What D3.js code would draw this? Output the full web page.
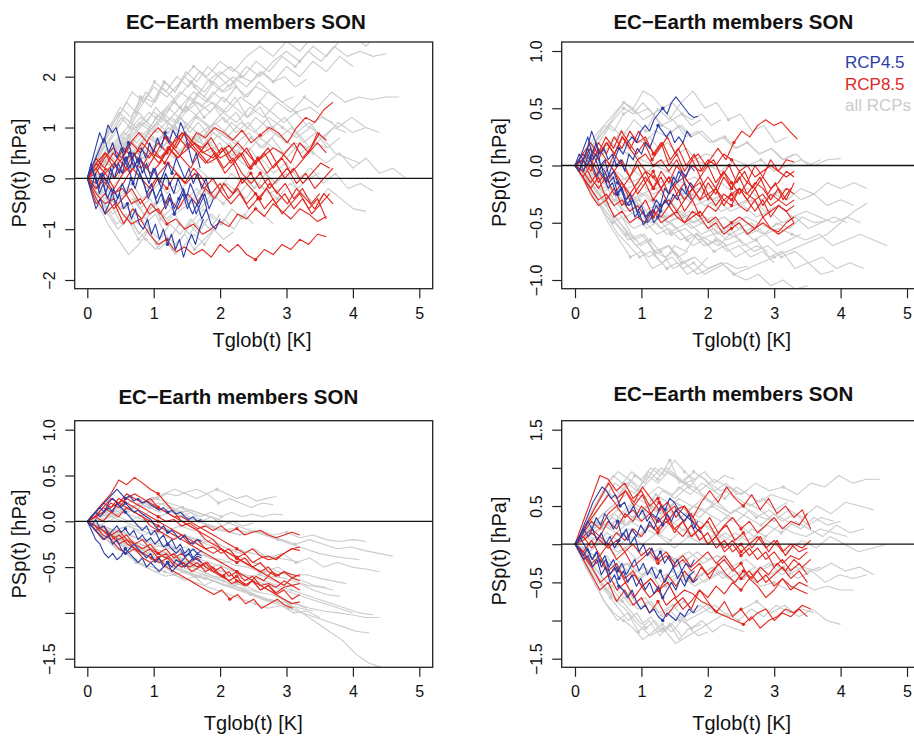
<!DOCTYPE html>
<html><head><meta charset="utf-8">
<script src="https://cdn.jsdelivr.net/npm/d3@7/dist/d3.min.js"></script>
<style>body{margin:0;background:#fff}svg{display:block;font-family:"Liberation Sans",Arial,Helvetica,sans-serif}</style>
</head><body><svg id="c" width="914" height="736"></svg>
<script>
// ---------- DATA (each line: [T_end, PSp values evenly spaced in Tglob from 0 to T_end]) ----------
const xTicks = [0,1,2,3,4,5];
const titleText = "EC\u2212Earth members SON";
const xTitle = "Tglob(t) [K]";
const yTitle = "PSp(t) [hPa]";
const legendLabels = ["RCP4.5","RCP8.5","all RCPs"];

const tlYTicks = [-2,-1,0,1,2];
const tlYLabels = ["\u22122","\u22121","0","1","2"];
const trYTicks = [-1,-0.5,0,0.5,1];
const trYLabels = ["\u22121.0","\u22120.5","0.0","0.5","1.0"];
const blYTicks = [-1.5,-1,-0.5,0,0.5,1];
const blYLabels = ["\u22121.5","","\u22120.5","0.0","0.5","1.0"];
const brYTicks = [-1.5,-1,-0.5,0,0.5,1,1.5];
const brYLabels = ["\u22121.5","","\u22120.5","","0.5","","1.5"];

const tlGray = [
[4.6,0,.3,.6,.9,1.2,1.0,1.4,1.7,1.5,1.9,2.1,1.9,2.2,2.0,2.3,2.5,2.3,2.6,2.4,2.7,2.8,2.6,2.9,2.8],
[4.5,0,.2,.5,.8,1.1,.9,1.3,1.6,1.9,1.7,2.0,2.2,2.0,2.3,2.1,2.4,2.2,2.5,2.3,2.6,2.4,2.5,2.4,2.45],
[4.7,0,.4,.2,.6,.9,.7,1.0,.8,1.2,1.0,1.3,1.1,1.4,1.2,1.5,1.3,1.6,1.4,1.7,1.5,1.6,1.55,1.6,1.6],
[3.3,0,.5,1.0,1.4,1.2,1.6,1.5,1.9,1.7,2.1,1.9,2.2,2.0,1.8,2.0,1.9,2.1,1.9,2.0,1.8,1.95],
[4.8,0,-.2,.1,.3,.1,.4,.7,.5,.8,.6,.9,.7,.5,.8,.6,.4,.7,.5,.3,.5,.2,.4,.1,.2,0],
[4.2,0,-.4,-.7,-.5,-.9,-.6,-.4,-.7,-.5,-.2,-.4,-.1,-.3,0,-.2,-.4,-.1,-.3,-.5,-.2,-.4,-.6,-.65],
[4.3,0,.2,0,.3,.5,.3,.6,.4,.7,.5,.3,.6,.4,.2,.4,.1,.3,0,.2,-.1,.1,-.2,-.1,-.25],
[4.1,0,.3,.6,.9,.7,1.0,1.3,1.1,1.4,1.2,1.0,1.2,.9,1.1,.8,1.0,.7,.9,.6,.8,.5,.4,.3],
[2.8,0,-.5,-.9,-1.2,-1.5,-1.3,-1.0,-1.2,-.9,-1.1,-.8,-1.0,-.7,-.9,-.6,-.8,-.5,-.7,-.9],
[2.5,0,-.3,-.6,-.9,-.7,-1.0,-1.2,-1.4,-1.2,-1.5,-1.3,-1.1,-1.3,-1.0,-.8,-1.0,-.7,-.9],
[3.9,0,.5,.8,1.2,1.0,1.3,1.1,1.5,1.3,1.7,1.5,1.3,1.6,1.2,1.4,1.0,1.2,.9,1.1,.8,1.0,.9],
[4.4,0,.3,.7,1.0,1.4,1.8,1.6,1.9,2.2,2.0,2.3,2.1,2.4,2.6,2.4,2.7,2.5,2.8,2.7,2.9,3.0,2.8,3.0],
[3.8,0,.1,-.2,.1,.3,.6,.4,.7,.5,.8,1.0,.8,1.1,.9,1.2,1.0,.8,1.0,.7,.9,.6,.8],
[3.0,0,-.3,0,-.4,-.2,-.6,-.4,-.8,-.6,-.3,-.5,-.2,-.4,-.1,-.3,0,-.2,.1,-.1,.2],
[2.2,0,.4,.8,1.1,1.5,1.3,1.7,1.5,1.9,1.7,2.0,1.8,1.6,1.9,1.7,1.8],
[4.0,0,.2,.4,.7,1.0,1.3,1.1,1.4,1.7,1.5,1.8,2.0,1.8,2.1,1.9,2.2,2.0,2.3,2.1,2.4,2.2],
[3.5,0,-.2,-.5,-.3,-.1,-.4,-.2,0,-.3,-.1,.2,0,-.2,.1,-.1,.3,.1,-.1,.1,-.2,0,.1],
[2.6,0,.3,.6,.4,.8,.6,.9,.7,1.0,.8,.6,.9,.7,.5,.7,.4,.6,.3],
[3.7,0,.2,.5,.8,.6,.9,1.2,1.0,1.3,1.5,1.3,1.6,1.4,1.2,1.5,1.3,1.1,1.3,1.0,1.2,1.1],
[1.8,0,-.4,-.2,-.6,-.9,-.7,-1.1,-.9,-1.3,-1.1,-1.4,-1.2,-.9,-1.1,-.8],
[2.4,0,.4,.9,1.3,1.1,1.6,1.4,1.8,1.6,1.3,1.5,1.2,1.4,1.1,1.3,1.0],
[3.1,0,.3,.7,.5,1.0,.8,1.2,1.4,1.2,1.6,1.4,1.7,1.5,1.8,1.6,1.9,1.7,1.5,1.6],
[2.0,0,-.3,-.7,-1.0,-.8,-1.2,-1.0,-1.4,-1.2,-.9,-1.1,-.8,-1.0,-.7],
[2.3,0,.2,.5,.3,.7,.5,.9,.7,1.1,.9,.6,.8,.5,.7,.4,.6],
[3.6,0,.4,.2,.6,.4,.8,.6,1.0,.8,.6,.9,.7,.5,.8,.6,.9,.7,.5,.7,.6],
[1.9,0,-.2,-.5,-.3,-.6,-.4,-.8,-.6,-.9,-.7,-1.0,-.8,-.6,-.8],
[2.7,0,.6,1.0,1.3,1.7,1.5,1.9,1.7,2.0,1.8,2.1,1.9,1.7,1.9,1.6,1.8,1.7],
[4.2,0,.1,.3,.6,.4,.7,.5,.9,.7,1.0,.8,1.1,.9,1.2,1.0,.8,1.0,.8,1.1,.9,1.0],
[2.1,0,-.1,.2,0,.3,.1,-.2,0,-.3,-.1,-.4,-.2,-.5,-.3,-.2],
[3.3,0,.2,.4,.7,.5,.8,1.1,.9,1.2,1.0,.8,1.1,.9,.7,.9,.6,.8,.5,.7,.6],
[1.8,0,.3,.6,.9,1.2,1.0,1.3,1.1,1.4,1.2,1.0,1.2,.9,1.1,.9],
[2.9,0,-.2,-.4,-.6,-.4,-.7,-.5,-.8,-.6,-.4,-.6,-.3,-.5,-.2,-.4,-.1,-.3,-.2],
[4.4,0,.3,.5,.8,1.1,.9,1.2,1.0,1.3,1.5,1.3,1.6,1.4,1.7,1.5,1.3,1.4,1.2,1.0,1.2,1.0,.9],
[2.2,0,.1,-.2,-.5,-.3,-.7,-.9,-.7,-1.1,-1.3,-1.1,-1.4,-1.2,-1.0,-1.2,-1.05]
];
const tlRed = [
[3.7,0,.2,.5,.3,.6,.4,.7,.5,.4,.6,.8,.6,.9,.8,1.0,.9,.75,.95,.7,.85,1.0,.9,.7,1.0,1.2,1.1,1.35,1.5],
[3.6,0,-.2,.1,.3,.1,.4,.6,.4,.7,.5,.8,.9,.7,.6,.8,.5,.65,.4,.6,.3,.45,.6,.5,.3,.7,.5,.9,.75],
[3.65,0,.3,.1,-.2,.1,.3,.2,.5,.3,.6,.4,.55,.7,.5,.4,.6,.3,.5,.2,.4,.1,.3,0,.2,-.1,.1,.3,.2],
[3.7,0,-.4,-.7,-.5,-.9,-.6,-.8,-.5,-.7,-.4,-.6,-.3,-.5,-.2,-.4,-.1,-.3,0,-.2,-.4,-.1,-.3,-.5,-.2,-.4,-.6,-.3,-.5],
[3.6,0,-.3,-.5,-.4,-.7,-.9,-.8,-1.1,-1.3,-1.2,-1.45,-1.35,-1.5,-1.4,-1.55,-1.3,-1.45,-1.3,-1.5,-1.6,-1.4,-1.5,-1.3,-1.4,-1.2,-1.3,-1.1,-1.15],
[3.6,0,.2,-.1,-.3,-.2,-.5,-.4,-.7,-.6,-.9,-.8,-1.0,-.9,-1.1,-1.0,-.85,-.95,-.7,-.8,-.6,-.75,-.5,-.65,-.8,-.6,-.7,-.85,-.75],
[3.5,0,.4,.2,.5,.3,.1,.4,.2,.5,.3,.6,.4,.2,.5,.3,.4,.1,.3,-.1,.1,-.2,0,-.3,-.1,-.4,-.2,-.5,-.3],
[3.7,0,-.1,.2,0,.3,.5,.3,.1,.3,.6,.4,.7,.5,.3,.5,.2,.4,.1,-.1,.1,-.2,0,.2,-.1,.1,-.2,0,.2],
[3.6,0,-.5,-.3,-.6,-.4,-.2,-.5,-.3,0,-.2,.1,-.1,.2,0,-.3,-.1,-.4,-.2,-.5,-.3,-.6,-.4,-.7,-.5,-.3,-.6,-.4,-.8],
[3.5,0,.1,.4,.6,.4,.7,.9,.7,.5,.8,.6,.9,.7,.5,.7,.4,.6,.3,.5,.2,.4,.6,.3,.5,.7,.4,.6,.9],
[3.65,0,-.2,0,-.3,-.1,.2,0,-.2,.1,.3,.1,-.1,.1,-.2,0,-.3,-.5,-.3,-.6,-.4,-.2,-.5,-.3,-.6,-.4,-.7,-.5,-.3],
[3.6,0,.3,.5,.2,.4,.7,.5,.8,1.0,.8,.6,.9,.7,.5,.6,.4,.5,.7,.5,.3,.5,.2,.4,.1,.3,.5,.7,.5]
];
const tlBlue = [
[1.8,0,.3,.6,.9,.7,1.05,.9,1.0,.7,.5,.7,.4,.2,.4,.1,-.1,.2,0,-.2,.1,-.1,-.3,0,-.2,-.4,-.1,-.3,-.5,-.3,-.6],
[1.75,0,-.2,.1,-.3,-.1,-.4,-.2,-.5,-.3,-.6,-.5,-.8,-.6,-.9,-1.0,-.8,-1.1,-.9,-1.2,-1.0,-1.3,-1.1,-1.4,-1.2,-1.55,-1.3,-1.1,-1.3,-1.0,-.8],
[2.0,0,.2,-.1,.1,-.3,0,.3,.1,.4,.2,-.1,.2,0,-.3,-.1,-.4,-.2,-.5,-.3,-.6,-.4,-.2,-.5,-.7,-.5,-.8,-.6,-.9,-1.0,-.8],
[1.7,0,.3,0,-.2,.1,-.1,.2,0,.3,.1,.4,.2,.5,.3,.6,.4,.7,.5,.8,.6,.9,.7,.95,.8,1.1,.9,.6,.3,.5,.2],
[1.9,0,-.3,-.6,-.4,-.7,-.5,-.2,-.4,-.1,-.3,0,-.2,.1,-.1,-.4,-.2,-.5,-.3,-.6,-.4,-.7,-.5,-.3,-.6,-.4,-.7,-.5,-.3,-.6,-.4],
[1.85,0,.2,.4,.6,.8,.5,.7,.4,.6,.3,.5,.2,.4,.1,.3,0,.2,-.1,.1,.3,.1,.4,.2,0,.2,-.1,.1,-.2,0,-.3]
];

const trGray = [
[4.7,0,-.1,-.2,-.15,-.3,-.25,-.35,-.3,-.45,-.4,-.5,-.45,-.55,-.5,-.6,-.55,-.6,-.65,-.6,-.7,-.65,-.6,-.65,-.7],
[4.4,0,-.1,-.05,-.15,-.1,-.25,-.2,-.3,-.25,-.35,-.3,-.4,-.35,-.3,-.35,-.25,-.3,-.2,-.25,-.15,-.2,-.15,-.2],
[4.35,0,-.15,-.3,-.25,-.4,-.5,-.45,-.6,-.55,-.65,-.6,-.7,-.65,-.75,-.7,-.8,-.75,-.85,-.8,-.9,-.85,-.9],
[4.0,0,.05,-.05,.05,0,-.1,0,.05,-.05,.05,0,-.05,.05,0,.05,-.05,0,.05,0,.05,.06],
[3.7,0,.1,.25,.4,.55,.45,.5,.35,.4,.25,.3,.2,.25,.15,.2,.1,.15,.05,.1,0,.05],
[3.2,0,.1,.2,.35,.25,.4,.3,.5,.4,.55,.65,.5,.55,.4,.45,.3,.35,.2,.25],
[4.4,0,-.2,-.35,-.5,-.65,-.6,-.75,-.7,-.85,-.8,-.9,-.85,-.95,-.9,-.85,-.8,-.75,-.7,-.65,-.6,-.5,-.4,-.33],
[3.5,0,-.1,-.25,-.4,-.55,-.7,-.8,-.75,-.9,-.85,-.95,-.9,-.85,-.95,-1.0,-.95,-1.05,-1.0,-1.08,-1.05],
[3.9,0,-.2,-.1,-.3,-.2,-.35,-.3,-.45,-.4,-.5,-.45,-.6,-.55,-.7,-.65,-.8,-.75,-.9,-.85,-.95,-.92],
[2.5,0,-.15,-.3,-.5,-.65,-.8,-.75,-.9,-.85,-.7,-.75,-.6,-.65,-.7,-.6,-.65],
[4.1,0,.05,-.05,-.1,-.2,-.15,-.25,-.2,-.3,-.25,-.35,-.3,-.4,-.35,-.45,-.4,-.5,-.45,-.55,-.5,-.45,-.5],
[3.0,0,-.05,-.2,-.3,-.45,-.55,-.5,-.6,-.55,-.65,-.6,-.7,-.65,-.75,-.7,-.8,-.75,-.85],
[4.2,0,.05,.15,.25,.15,.05,0,-.05,-.15,-.1,-.2,-.15,-.25,-.2,-.3,-.25,-.2,-.3,-.25,-.35,-.3,-.35],
[2.0,0,-.1,-.2,-.35,-.5,-.6,-.7,-.65,-.8,-.9,-.85,-.95,-.9,-.8],
[3.3,0,.05,.1,.2,.15,.25,.2,.3,.25,.35,.25,.3,.2,.25,.15,.2,.1,.15,.05,.1],
[2.8,0,-.1,-.25,-.2,-.35,-.3,-.45,-.4,-.5,-.45,-.55,-.5,-.6,-.55,-.5,-.6,-.55],
[4.3,0,-.05,-.1,-.05,-.15,-.1,-.2,-.15,-.25,-.2,-.3,-.25,-.35,-.3,-.4,-.35,-.45,-.4,-.45,-.5,-.45,-.5],
[1.9,0,.1,.2,.3,.4,.5,.45,.55,.45,.5,.4,.45,.35,.4],
[2.3,0,-.1,-.2,-.35,-.3,-.45,-.4,-.55,-.5,-.6,-.55,-.65,-.6,-.7,-.65,-.7],
[2.9,0,.05,-.05,-.15,-.25,-.35,-.3,-.45,-.55,-.5,-.6,-.7,-.65,-.75,-.7,-.8,-.75,-.7,-.75],
[1.9,0,.1,.25,.35,.3,.45,.5,.4,.45,.35,.3,.35,.25,.3],
[2.6,0,-.15,-.3,-.45,-.6,-.7,-.8,-.75,-.85,-.8,-.9,-.85,-.95,-.9,-.85,-.9,-.88],
[3.4,0,-.05,-.15,-.1,-.2,-.3,-.25,-.35,-.45,-.4,-.5,-.45,-.55,-.6,-.55,-.65,-.6,-.7,-.65,-.6],
[2.1,0,.05,.15,.1,.2,.3,.25,.2,.25,.15,.2,.1,.15,.05,.1,.08],
[3.8,0,-.1,-.2,-.3,-.4,-.35,-.5,-.45,-.55,-.5,-.6,-.55,-.65,-.6,-.55,-.6,-.5,-.55,-.45,-.5,-.48],
[1.7,0,-.1,-.25,-.4,-.5,-.45,-.6,-.7,-.65,-.75,-.7,-.8,-.75],
[2.4,0,0,.1,.2,.15,.1,0,-.05,-.15,-.1,-.2,-.25,-.2,-.3,-.25,-.3],
[3.1,0,-.05,-.1,-.2,-.15,-.3,-.4,-.35,-.5,-.45,-.4,-.5,-.45,-.55,-.5,-.45,-.5,-.55,-.5],
[2.2,0,.1,.2,.35,.45,.55,.5,.65,.6,.5,.55,.45,.4,.45,.35,.4],
[1.8,0,-.05,-.2,-.3,-.45,-.55,-.65,-.6,-.75,-.8,-.75,-.85,-.8]
];
const trRed = [
[3.35,0,.05,-.05,.1,.2,.1,.25,.15,.3,.2,.1,.2,.05,.15,0,.1,-.05,.05,.15,.05,.2,.3,.25,.35,.4,.35,.38,.3,.23],
[3.3,0,-.1,-.2,-.1,-.3,-.2,-.35,-.25,-.4,-.3,-.45,-.35,-.3,-.4,-.3,-.2,-.3,-.15,-.25,-.1,-.2,-.05,-.15,0,-.1,.05,-.05,.05,.03],
[3.3,0,-.1,-.25,-.35,-.3,-.45,-.4,-.5,-.45,-.5,-.4,-.45,-.35,-.45,-.5,-.4,-.45,-.55,-.5,-.6,-.55,-.5,-.6,-.55,-.45,-.55,-.6,-.55,-.5],
[3.3,0,.1,.05,.2,.1,.25,.15,.3,.2,.25,.1,.2,0,.1,-.05,.05,-.1,0,-.15,-.05,-.2,-.1,-.25,-.15,-.2,-.3,-.2,-.3,-.15],
[3.3,0,-.05,.05,-.05,-.15,-.05,-.2,-.1,-.25,-.15,-.3,-.2,-.35,-.25,-.4,-.3,-.45,-.35,-.4,-.3,-.35,-.2,-.3,-.4,-.3,-.45,-.35,-.4,-.5],
[3.25,0,.1,.2,.1,.25,.15,.3,.2,.1,.2,.05,.15,.25,.1,.2,.05,.1,0,.05,-.1,0,-.15,-.05,-.2,-.1,-.25,-.15,-.3,-.2],
[3.3,0,-.1,0,-.15,-.05,.1,0,-.1,.05,-.05,-.2,-.1,-.25,-.15,-.1,-.2,-.15,-.3,-.2,-.35,-.25,-.2,-.3,-.2,-.35,-.25,-.3,-.2,-.25],
[3.3,0,.05,-.1,-.2,-.1,-.25,-.15,-.3,-.2,-.1,-.2,-.05,-.15,0,-.1,-.2,-.1,-.25,-.2,-.3,-.25,-.35,-.4,-.3,-.45,-.4,-.35,-.4,-.35],
[3.3,0,.1,0,.15,.05,-.05,.05,-.1,0,-.15,-.05,-.2,-.1,-.25,-.15,-.3,-.2,-.1,-.2,-.05,-.15,-.25,-.15,-.2,-.1,-.2,-.15,-.05,-.1],
[3.3,0,-.1,-.2,-.3,-.25,-.35,-.3,-.4,-.35,-.45,-.4,-.5,-.45,-.4,-.5,-.45,-.4,-.5,-.45,-.55,-.5,-.45,-.5,-.55,-.5,-.55,-.58,-.5,-.45],
[3.3,0,.05,.15,.05,.2,.1,.25,.15,.05,.1,0,.05,-.05,.05,-.1,0,-.05,.05,0,.1,.05,-.05,0,-.1,-.05,0,-.05,-.1,-.05],
[3.3,0,-.05,-.15,-.05,.05,-.05,-.15,-.25,-.15,-.05,-.1,-.2,-.1,-.2,-.3,-.2,-.3,-.25,-.35,-.25,-.3,-.2,-.25,-.3,-.25,-.35,-.3,-.35,-.3]
];
const trBlue = [
[1.85,0,.05,-.05,.1,0,-.1,0,-.15,-.05,.05,.15,.1,.2,.25,.2,.3,.35,.3,.4,.45,.5,.45,.55,.6,.55,.5,.45,.42,.43],
[1.8,0,.05,.15,.25,.1,.2,0,-.05,-.15,-.1,-.25,-.2,-.35,-.3,-.45,-.4,-.52,-.45,-.4,-.3,-.35,-.2,-.25,-.1,-.15,-.05,-.1,0,-.05],
[1.8,0,-.05,.05,.15,.05,.1,0,.05,-.1,-.05,-.15,-.2,-.3,-.25,-.35,-.45,-.4,-.5,-.45,-.35,-.4,-.3,-.35,-.25,-.3,-.2,-.25,-.15,-.2],
[1.75,0,.1,.05,.15,.3,.2,.1,.15,.05,.1,0,.05,-.05,.1,.05,.15,.1,.2,.15,.25,.35,.3,.25,.3,.2,.25,.2,.3,.25],
[1.75,0,-.05,.05,0,.1,.05,-.05,-.1,-.2,-.15,-.25,-.2,-.3,-.35,-.3,-.4,-.35,-.45,-.4,-.5,-.45,-.35,-.3,-.2,-.15,-.05,-.1,-.25,-.3]
];

const blGray = [
[4.6,0,.05,.1,.15,.2,.15,.1,.05,0,-.05,-.1,-.15,-.1,-.15,-.2,-.25,-.2,-.25,-.3,-.28,-.32,-.35,-.38],
[4.4,0,-.05,-.1,-.05,-.15,-.1,-.2,-.15,-.25,-.2,-.3,-.35,-.3,-.4,-.35,-.45,-.4,-.5,-.45,-.5,-.52,-.55],
[4.4,0,-.1,-.2,-.3,-.35,-.45,-.5,-.55,-.6,-.65,-.7,-.75,-.8,-.85,-.88,-.9,-.95,-.98,-1.0,-1.02,-1.05,-1.05],
[4.25,0,-.1,-.15,-.25,-.3,-.4,-.45,-.5,-.55,-.6,-.65,-.7,-.78,-.85,-.9,-.95,-1.0,-1.05,-1.1,-1.15,-1.2,-1.22],
[4.45,0,-.05,-.1,-.2,-.25,-.3,-.35,-.4,-.45,-.5,-.55,-.6,-.65,-.7,-.8,-.9,-1.0,-1.1,-1.2,-1.3,-1.45,-1.55,-1.6],
[2.85,0,.05,.1,.15,.2,.25,.2,.25,.3,.28,.32,.35,.3,.35,.3,.25,.28,.22,.25,.27],
[2.95,0,-.05,0,.05,0,.05,.1,.05,.1,.15,.1,.05,.1,.05,.1,.05,.08,.05,.08,.07],
[4.2,0,-.05,-.1,-.05,-.1,-.15,-.1,-.05,-.1,-.05,-.1,-.08,-.12,-.1,-.15,-.12,-.18,-.15,-.2,-.22,-.2,-.22],
[4.0,0,-.1,-.15,-.2,-.3,-.35,-.4,-.45,-.5,-.55,-.6,-.58,-.65,-.7,-.75,-.8,-.85,-.9,-.95,-1.0],
[3.9,0,-.05,-.1,-.15,-.2,-.28,-.25,-.35,-.3,-.4,-.45,-.42,-.5,-.55,-.5,-.6,-.58,-.62,-.65,-.68],
[2.2,0,-.1,-.2,-.3,-.35,-.45,-.5,-.55,-.6,-.58,-.65,-.6,-.7,-.65,-.7,-.72],
[3.5,0,-.15,-.25,-.35,-.45,-.5,-.55,-.6,-.65,-.7,-.75,-.8,-.85,-.9,-.95,-.92,-1.0,-.98,-1.05],
[3.6,0,0,.05,.1,.05,0,-.05,-.1,-.15,-.2,-.25,-.3,-.35,-.4,-.45,-.5,-.55,-.6,-.65,-.7,-.72],
[4.1,0,.05,.1,.15,.2,.25,.2,.15,.1,.05,0,-.05,-.1,-.15,-.2,-.25,-.3,-.35,-.38,-.4,-.42],
[3.4,0,-.05,-.15,-.2,-.3,-.35,-.45,-.5,-.55,-.6,-.65,-.7,-.75,-.8,-.85,-.88,-.92,-.95,-.98],
[2.5,0,.1,.05,.15,.1,.2,.15,.1,.15,.05,.1,0,.05,-.05,0,-.05,-.02],
[3.8,0,-.05,-.1,-.2,-.25,-.3,-.35,-.4,-.45,-.5,-.48,-.55,-.6,-.58,-.65,-.7,-.68,-.75,-.8,-.82],
[2.4,0,-.05,-.15,-.2,-.3,-.35,-.4,-.45,-.5,-.55,-.6,-.62,-.65,-.7,-.68,-.72],
[2.0,0,.05,.1,.05,.15,.1,.2,.15,.2,.15,.1,.12,.08,.05,.02],
[2.6,0,-.05,-.15,-.25,-.3,-.35,-.4,-.45,-.5,-.55,-.6,-.62,-.66,-.7,-.72,-.75,-.78],
[1.9,0,-.1,-.2,-.3,-.35,-.42,-.5,-.55,-.5,-.58,-.55,-.6,-.58,-.62],
[3.0,0,-.05,-.1,-.15,-.2,-.25,-.3,-.35,-.4,-.45,-.5,-.55,-.6,-.65,-.7,-.75,-.8,-.85,-.88,-.92],
[2.3,0,.05,.1,.15,.12,.18,.15,.2,.15,.1,.05,0,-.05,-.1,-.12,-.15],
[3.3,0,-.1,-.15,-.2,-.25,-.3,-.35,-.4,-.45,-.5,-.55,-.6,-.62,-.68,-.72,-.78,-.8,-.85,-.9,-.95],
[1.7,0,-.05,-.15,-.2,-.3,-.28,-.35,-.4,-.38,-.45,-.42,-.5,-.48],
[2.8,0,0,.05,.1,.15,.2,.25,.3,.35,.3,.25,.3,.2,.25,.2,.15,.2,.18],
[3.7,0,-.05,-.1,-.12,-.18,-.2,-.25,-.3,-.28,-.35,-.4,-.42,-.48,-.5,-.55,-.6,-.62,-.66,-.7,-.72,-.75],
[2.1,0,-.08,-.15,-.2,-.25,-.32,-.38,-.35,-.42,-.4,-.45,-.5,-.48,-.52,-.55],
[4.3,0,-.05,-.1,-.15,-.2,-.25,-.3,-.35,-.4,-.45,-.5,-.55,-.6,-.65,-.7,-.75,-.8,-.85,-.9,-.95,-1.0,-1.02],
[3.2,0,.02,.05,0,-.05,-.08,-.12,-.1,-.15,-.18,-.22,-.25,-.3,-.32,-.35,-.38,-.4,-.42,-.45]
];
const blRed = [
[3.2,0,.1,.2,.3,.45,.4,.48,.42,.35,.3,.2,.1,0,-.05,-.1,-.15,-.2,-.3,-.35,-.4,-.45,-.5,-.55,-.6,-.65,-.7,-.62,-.65],
[3.2,0,.05,.1,.2,.15,.25,.2,.15,.1,.05,0,.02,-.05,-.02,-.08,-.05,-.1,-.05,-.12,-.08,-.15,-.12,-.1,-.15,-.18,-.15,-.12,-.15],
[3.2,0,-.1,-.05,-.15,-.2,-.15,-.25,-.3,-.25,-.35,-.4,-.35,-.45,-.5,-.45,-.55,-.5,-.6,-.65,-.6,-.7,-.65,-.75,-.7,-.8,-.75,-.85,-.8],
[3.2,0,.1,.2,.15,.25,.2,.15,.1,.05,0,-.05,-.1,-.15,-.2,-.25,-.3,-.28,-.35,-.3,-.4,-.35,-.45,-.4,-.38,-.42,-.35,-.3,-.28],
[3.1,0,-.05,-.15,-.2,-.3,-.35,-.3,-.4,-.45,-.4,-.5,-.55,-.6,-.65,-.7,-.75,-.8,-.75,-.85,-.8,-.9,-.85,-.95,-.9,-.85,-.92,-.95],
[3.2,0,.05,.15,.25,.2,.3,.25,.2,.25,.15,.1,.05,0,-.05,-.1,-.2,-.25,-.3,-.35,-.4,-.45,-.5,-.55,-.5,-.6,-.55,-.58,-.6],
[3.2,0,-.1,-.2,-.15,-.25,-.2,-.3,-.35,-.3,-.4,-.35,-.45,-.5,-.45,-.4,-.5,-.55,-.6,-.55,-.65,-.7,-.65,-.75,-.7,-.78,-.72,-.7,-.75],
[3.2,0,.05,0,.1,.05,.15,.1,.05,-.05,-.1,-.15,-.2,-.15,-.25,-.2,-.3,-.35,-.3,-.4,-.45,-.4,-.5,-.45,-.55,-.6,-.55,-.62,-.58],
[2.9,0,-.05,-.1,-.2,-.15,-.25,-.3,-.35,-.4,-.45,-.4,-.5,-.45,-.55,-.5,-.45,-.55,-.6,-.68,-.65,-.7,-.6,-.65,-.55,-.6],
[3.2,0,.05,.1,.15,.2,.25,.3,.25,.2,.15,.1,.05,.05,0,-.05,-.1,-.15,-.2,-.25,-.3,-.35,-.3,-.38,-.42,-.4,-.35,-.3,-.32],
[3.2,0,-.05,-.1,-.15,-.1,-.2,-.25,-.2,-.3,-.35,-.3,-.4,-.35,-.45,-.5,-.45,-.55,-.5,-.6,-.55,-.65,-.6,-.7,-.68,-.72,-.65,-.7,-.68],
[3.2,0,.05,.15,.1,.2,.15,.1,.05,0,-.05,-.1,-.15,-.2,-.25,-.3,-.35,-.4,-.45,-.5,-.55,-.6,-.65,-.7,-.75,-.8,-.85,-.9,-.88]
];
const blBlue = [
[1.72,0,.05,.1,.15,.2,.25,.3,.35,.3,.25,.28,.22,.25,.2,.22,.18,.15,.12,.15,.1,.12,.08,.1,.05,.02,.05,0,.02],
[1.72,0,-.1,-.2,-.25,-.35,-.4,-.35,-.42,-.38,-.3,-.35,-.4,-.45,-.4,-.5,-.45,-.5,-.55,-.5,-.45,-.5,-.42,-.45,-.5,-.45,-.4,-.42,-.45],
[1.72,0,.05,.1,.05,.1,.15,.1,.2,.15,.1,.05,0,-.05,-.1,-.05,-.15,-.1,-.2,-.15,-.25,-.2,-.3,-.25,-.35,-.3,-.4,-.35,-.38],
[1.72,0,-.05,-.1,-.15,-.2,-.15,-.25,-.2,-.3,-.35,-.3,-.25,-.3,-.35,-.4,-.35,-.45,-.4,-.5,-.45,-.55,-.5,-.45,-.4,-.35,-.42,-.38,-.4],
[1.72,0,.05,.1,.15,.1,.2,.25,.2,.15,.2,.15,.1,.12,.08,.05,.02,-.05,-.1,-.05,-.12,-.1,-.15,-.2,-.15,-.22,-.25,-.2,-.22],
[1.72,0,-.05,.02,-.08,-.05,-.15,-.1,-.05,-.12,-.08,-.15,-.1,-.2,-.15,-.22,-.18,-.25,-.2,-.28,-.25,-.3,-.35,-.3,-.38,-.35,-.3,-.35,-.32]
];

const brGray = [
[4.6,0,.2,.4,.55,.7,.6,.75,.65,.8,.7,.85,.75,.65,.8,.7,.75,.65,.8,.75,.9,.8,.85,.85],
[4.7,0,-.1,.05,.15,.05,.2,.1,-.05,.1,0,.15,.05,-.05,.1,0,-.1,.05,-.05,.1,0,-.1,-.05,0],
[4.4,0,-.15,-.3,-.2,-.4,-.3,-.45,-.35,-.5,-.4,-.3,-.45,-.35,-.5,-.4,-.3,-.45,-.35,-.5,-.4,-.45,-.4],
[4.0,0,-.2,-.45,-.6,-.8,-.7,-.9,-.8,-1.0,-.9,-.8,-.95,-.85,-.75,-.9,-.8,-.95,-.85,-1.0,-1.05],
[4.5,0,.15,.3,.45,.35,.5,.4,.55,.45,.6,.5,.4,.55,.45,.3,.45,.35,.5,.4,.55,.5,.45],
[4.35,0,.1,.25,.15,.3,.2,.35,.25,.4,.3,.2,.35,.25,.1,.25,.15,.3,.2,.1,.25,.15,.2],
[2.55,0,-.3,-.55,-.8,-1.0,-.9,-1.15,-1.0,-1.2,-1.05,-.95,-1.1,-1.0,-1.15,-1.05,-1.1,-1.15],
[2.6,0,.3,.55,.8,.95,.85,.7,.85,1.0,.9,.8,.95,.85,.7,.8,.65,.7],
[2.0,0,.2,.45,.7,.9,.8,.95,.85,1.0,.9,1.1,.8,.9,.7,.6],
[3.6,0,-.25,-.5,-.7,-.85,-1.05,-1.2,-1.1,-1.3,-1.2,-1.1,-1.0,-.9,-1.0,-.85,-.95,-.8,-.9,-.85,-.9],
[4.5,0,.1,0,-.1,0,-.15,-.05,-.2,-.1,-.25,-.15,-.3,-.2,-.35,-.25,-.4,-.3,-.35,-.25,-.35,-.3,-.4],
[3.9,0,.15,.3,.2,.4,.3,.5,.4,.6,.5,.45,.55,.4,.5,.35,.45,.3,.4,.25,.35,.3],
[4.2,0,-.1,-.2,-.3,-.25,-.4,-.3,-.5,-.4,-.55,-.45,-.35,-.5,-.4,-.55,-.5,-.6,-.5,-.6,-.55,-.6,-.6],
[3.2,0,.2,.35,.5,.4,.6,.5,.7,.6,.75,.65,.55,.7,.6,.5,.6,.45,.55],
[2.3,0,-.2,-.4,-.6,-.75,-.65,-.85,-.75,-.95,-.85,-.75,-.9,-.8,-.9,-.95],
[3.0,0,.1,.2,.35,.25,.4,.5,.4,.55,.45,.35,.5,.4,.3,.45,.35,.3],
[4.1,0,-.1,.05,-.05,.1,0,.15,.05,.2,.1,0,.15,.05,.2,.1,.25,.15,.1,.2,.15,.1],
[1.9,0,-.25,-.5,-.75,-.9,-1.0,-1.1,-1.25,-1.15,-1.05,-1.15,-1.0,-1.1,-1.05],
[2.4,0,.2,.4,.6,.8,.7,.9,.8,1.0,.9,1.1,.95,.85,.95,.8,.9,.85],
[2.2,0,-.2,-.4,-.6,-.5,-.7,-.85,-.75,-.95,-.85,-1.0,-.9,-.8,-.9,-.85],
[1.9,0,.1,.3,.2,.4,.3,.5,.4,.6,.5,.4,.5,.35,.45],
[2.7,0,-.1,-.25,-.15,-.35,-.25,-.45,-.35,-.55,-.45,-.35,-.5,-.4,-.3,-.45,-.35,-.4,-.3],
[3.3,0,.15,.3,.2,.4,.55,.45,.65,.55,.75,.65,.8,.7,.6,.75,.65,.55,.65,.6,.55],
[2.0,0,-.15,-.3,-.45,-.6,-.75,-.9,-1.05,-.95,-1.15,-1.05,-1.25,-1.1,-1.2,-1.15],
[2.9,0,.1,0,.15,.05,.2,.1,.25,.15,.3,.2,.1,.25,.15,.05,.15,.05,.1,0],
[2.5,0,.25,.5,.7,.6,.8,.7,.9,.8,.95,.85,.75,.9,.8,.7,.75,.65],
[3.7,0,-.1,-.2,-.35,-.25,-.45,-.35,-.55,-.45,-.35,-.5,-.4,-.3,-.45,-.35,-.25,-.4,-.3,-.35,-.3],
[1.8,0,.15,.35,.55,.75,.65,.85,.75,.95,.85,1.0,.9,.8,.85],
[2.3,0,-.05,.1,0,-.15,-.05,-.2,-.1,-.25,-.15,-.3,-.2,-.1,-.2,-.15,-.2],
[4.0,0,.1,.2,.3,.25,.4,.3,.45,.35,.5,.4,.3,.45,.35,.25,.4,.3,.2,.35,.25,.3],
[1.6,0,-.2,-.4,-.55,-.7,-.85,-1.0,-.9,-1.1,-1.0,-1.15,-1.05,-1.2]
];
const brRed = [
[3.5,0,.3,.6,.9,.85,.7,.8,.6,.7,.5,.6,.4,.5,.3,.4,.2,.3,.1,.25,.35,.2,.3,.15,.25,.35,.2,.3,.25,.4],
[3.55,0,.2,.4,.6,.8,.6,.7,.5,.65,.4,.55,.3,.45,.5,.35,.55,.7,.55,.75,.6,.5,.65,.45,.6,.4,.5,.35,.45,.2],
[3.5,0,-.2,-.4,-.6,-.5,-.75,-.6,-.8,-.7,-.9,-.75,-.95,-.8,-.7,-.85,-.6,-.75,-.9,-.75,-.95,-.85,-1.0,-.9,-.85,-1.0,-.9,-.95,-.85,-.95],
[3.55,0,-.1,-.3,-.2,-.4,-.3,-.5,-.4,-.55,-.45,-.6,-.5,-.7,-.6,-.65,-.75,-.8,-.9,-.95,-1.0,-1.05,-.95,-1.1,-1.0,-.95,-.85,-.9,-.8,-.85],
[3.5,0,.1,.2,.1,.3,.2,.4,.3,.5,.4,.3,.4,.2,.3,.1,.2,0,.1,-.1,0,-.15,-.05,-.2,-.1,-.3,-.2,-.35,-.25,-.4],
[3.5,0,-.1,.05,-.15,0,-.2,-.1,-.3,-.2,-.1,-.25,-.15,-.3,-.2,-.35,-.25,-.4,-.3,-.2,-.35,-.25,-.45,-.35,-.5,-.4,-.3,-.45,-.35,-.5],
[3.5,0,.15,.3,.2,.4,.5,.35,.45,.3,.4,.2,.35,.15,.3,.1,.2,0,.1,-.05,.05,-.1,0,.1,-.05,.05,-.1,0,-.1,-.05],
[3.55,0,-.15,-.3,-.5,-.4,-.6,-.5,-.7,-.55,-.45,-.6,-.4,-.55,-.35,-.5,-.3,-.45,-.25,-.4,-.5,-.35,-.45,-.3,-.4,-.25,-.35,-.2,-.3,-.2],
[3.5,0,.1,-.05,.1,0,.15,.05,.2,.1,.25,.15,.3,.2,.1,.25,.05,.15,-.05,.05,-.1,0,-.15,-.05,-.2,-.1,-.25,-.15,-.2,-.1],
[3.55,0,.2,.35,.5,.65,.5,.7,.55,.75,.6,.45,.55,.35,.5,.3,.2,.35,.15,.25,.05,.15,-.05,.1,-.1,.05,-.15,0,-.05,.05],
[3.5,0,-.1,-.25,-.15,-.35,-.25,-.45,-.35,-.55,-.7,-.6,-.8,-.7,-.85,-.75,-.6,-.7,-.55,-.65,-.5,-.6,-.45,-.55,-.7,-.6,-.45,-.55,-.6,-.65],
[3.5,0,.05,.15,.05,-.05,.05,-.1,0,-.15,-.05,-.2,-.1,-.25,-.15,-.3,-.2,-.1,-.25,-.15,-.3,-.45,-.35,-.5,-.4,-.55,-.45,-.6,-.5,-.55]
];
const brBlue = [
[1.9,0,.1,.25,.4,.55,.65,.75,.7,.6,.65,.5,.55,.4,.5,.35,.45,.3,.4,.35,.5,.45,.6,.55,.45,.4,.35,.3,.2,.15],
[1.85,0,-.1,-.2,-.15,-.3,-.2,-.4,-.3,-.5,-.4,-.55,-.6,-.7,-.6,-.75,-.85,-.8,-.9,-.85,-.95,-1.0,-.9,-.95,-1.0,-.9,-.95,-.85,-.9,-.8],
[1.85,0,.1,0,-.1,-.2,-.1,-.3,-.2,-.4,-.3,-.45,-.35,-.5,-.4,-.55,-.45,-.6,-.5,-.65,-.55,-.7,-.6,-.5,-.6,-.45,-.55,-.4,-.5,-.45],
[1.85,0,.1,.2,.1,.2,.05,.15,0,.1,-.05,.05,.15,.05,.2,.1,.25,.15,.3,.2,.35,.25,.4,.3,.45,.35,.3,.4,.2,.3],
[1.8,0,-.05,-.15,-.05,-.2,-.1,-.25,-.15,-.3,-.2,-.35,-.25,-.4,-.3,-.2,-.35,-.25,-.4,-.3,-.45,-.35,-.5,-.4,-.3,-.45,-.35,-.5,-.4,-.35],
[1.8,0,.05,.15,.3,.2,.35,.25,.4,.3,.2,.3,.1,.2,0,.1,-.1,0,-.15,-.05,-.2,-.1,-.25,-.15,-.3,-.2,-.35,-.25,-.3,-.2]
];

// ---------- STYLE / LAYOUT ----------
const COL = {gray:"#cbcbcb", red:"#e3261e", blue:"#2b3da6"};
const panels = [
  {gray:tlGray, red:tlRed, blue:tlBlue, yt:tlYTicks, yl:tlYLabels, ydom:[-2,2],
   box:[74.7,42,432.7,288.7], xr:[87.3,419.3], yr:[280,76.7],
   title:[245.8,29], xtl:[262,347.3], ytl:[26,173], legend:false},
  {gray:trGray, red:trRed, blue:trBlue, yt:trYTicks, yl:trYLabels, ydom:[-1,1],
   box:[561.7,42,921,288.7], xr:[575,907], yr:[280,51],
   title:[733.3,29], xtl:[741.7,347.3], ytl:[506,172.5], legend:true},
  {gray:blGray, red:blRed, blue:blBlue, yt:blYTicks, yl:blYLabels, ydom:[-1.5,1],
   box:[74.7,420.7,432.7,667.3], xr:[87.3,419.3], yr:[658.7,429.7],
   title:[238.3,404], xtl:[253.3,730], ytl:[26,544], legend:false},
  {gray:brGray, red:brRed, blue:brBlue, yt:brYTicks, yl:brYLabels, ydom:[-1.5,1.5],
   box:[561.7,420.7,921,667.3], xr:[575,907], yr:[658.7,429.7],
   title:[733.3,401], xtl:[741.7,730], ytl:[506,551], legend:false}
];

const svg = d3.select("#c");
panels.forEach((p,pi)=>{
  const x = d3.scaleLinear().domain([0,5]).range(p.xr);
  const y = d3.scaleLinear().domain(p.ydom).range(p.yr);
  const [bl,bt,br,bb] = p.box;
  const clipId = "clip"+pi;
  svg.append("clipPath").attr("id",clipId).append("rect")
     .attr("x",bl).attr("y",bt).attr("width",br-bl).attr("height",bb-bt);
  const g = svg.append("g").attr("clip-path",`url(#${clipId})`);
  const line = d3.line().x(d=>x(d[0])).y(d=>y(d[1]));
  const toPts = s => { const end=s[0], v=s.slice(1), n=v.length; return v.map((val,i)=>[end*i/(n-1),val]); };
  const drawGroup = (series,color,w)=>{
    series.forEach(s=>{
      const pts = toPts(s);
      g.append("path").attr("d",line(pts)).attr("fill","none")
       .attr("stroke",color).attr("stroke-width",w).attr("stroke-linejoin","round");
      [0.35,0.7].forEach(f=>{
        const d = pts[Math.round((pts.length-1)*f)];
        g.append("circle").attr("cx",x(d[0])).attr("cy",y(d[1])).attr("r",1.7).attr("fill",color);
      });
    });
  };
  drawGroup(p.gray,COL.gray,1.1);
  drawGroup(p.red,COL.red,1.1);
  drawGroup(p.blue,COL.blue,1.1);
  g.append("line").attr("x1",bl).attr("x2",br).attr("y1",y(0)).attr("y2",y(0))
   .attr("stroke","#111").attr("stroke-width",1.3);
  svg.append("rect").attr("x",bl).attr("y",bt).attr("width",br-bl).attr("height",bb-bt)
     .attr("fill","none").attr("stroke","#222").attr("stroke-width",1.3);
  const xa = svg.append("g").attr("transform",`translate(0,${bb})`)
    .call(d3.axisBottom(x).tickValues(xTicks).tickSize(9.5).tickPadding(9).tickFormat(d3.format("d")));
  xa.select(".domain").remove();
  xa.selectAll("line").attr("stroke","#222").attr("stroke-width",1.2);
  xa.selectAll("text").attr("font-size","16px").attr("fill","#111").attr("font-family","Liberation Sans, Arial, sans-serif");
  const ya = svg.append("g").attr("transform",`translate(${bl},0)`)
    .call(d3.axisLeft(y).tickValues(p.yt).tickSize(9.5).tickFormat((d,i)=>p.yl[i]));
  ya.select(".domain").remove();
  ya.selectAll("line").attr("stroke","#222").attr("stroke-width",1.2);
  ya.selectAll("text").attr("x",null).attr("dy",null)
    .attr("transform","translate(-20,0) rotate(-90)")
    .attr("text-anchor","middle").attr("dominant-baseline","auto")
    .attr("font-size","16px").attr("fill","#111").attr("font-family","Liberation Sans, Arial, sans-serif");
  svg.append("text").attr("x",p.title[0]).attr("y",p.title[1]).attr("text-anchor","middle")
     .attr("font-weight","bold").attr("font-size","20.5px").attr("fill","#111").text(titleText);
  svg.append("text").attr("x",p.xtl[0]).attr("y",p.xtl[1]).attr("text-anchor","middle")
     .attr("font-size","20px").attr("fill","#111").text(xTitle);
  svg.append("text").attr("transform",`translate(${p.ytl[0]},${p.ytl[1]}) rotate(-90)`)
     .attr("text-anchor","middle").attr("font-size","20px").attr("fill","#111").text(yTitle);
  if(p.legend){
    const lc=[COL.blue,COL.red,COL.gray];
    legendLabels.forEach((t,i)=>{
      svg.append("text").attr("x",845).attr("y",68.3+i*21.4).attr("font-size","17px")
         .attr("fill",lc[i]).text(t);
    });
  }
});
</script></body></html>
